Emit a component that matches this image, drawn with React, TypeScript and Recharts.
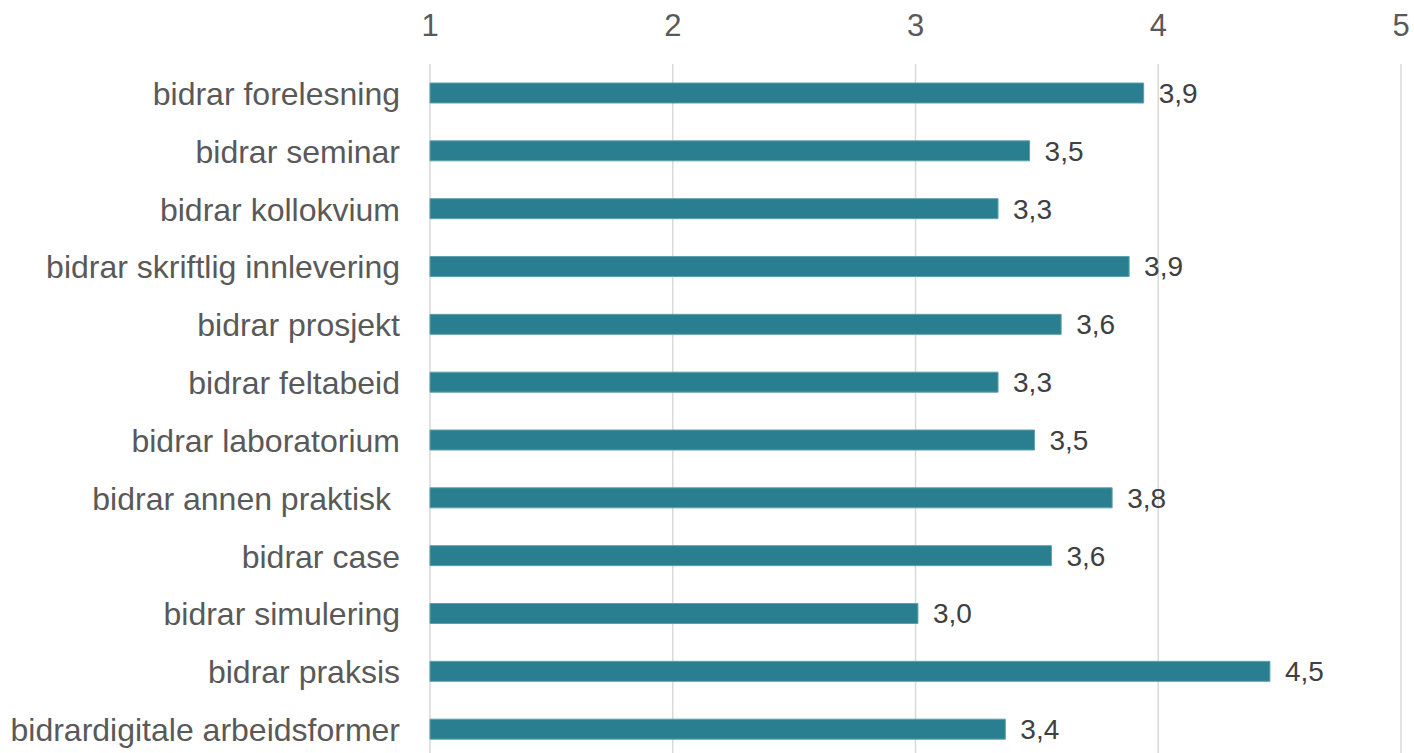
import { BarChart, Bar, XAxis, YAxis, CartesianGrid, LabelList } from "recharts";

const categories = [
  "bidrar forelesning",
  "bidrar seminar",
  "bidrar kollokvium",
  "bidrar skriftlig innlevering",
  "bidrar prosjekt",
  "bidrar feltabeid",
  "bidrar laboratorium",
  "bidrar annen praktisk ",
  "bidrar case",
  "bidrar simulering",
  "bidrar praksis",
  "bidrardigitale arbeidsformer",
];
const scores = [3.94, 3.47, 3.34, 3.88, 3.6, 3.34, 3.49, 3.81, 3.56, 3.01, 4.46, 3.37];
const ticks = [1, 2, 3, 4, 5];

const data = categories.map((name, i) => ({ name, score: scores[i] }));

const FONT = "'Liberation Sans', Arial, sans-serif";

const CategoryTick = ({ x, y, payload }: any) => (
  <text
    x={x - 22}
    y={y}
    dy={12}
    textAnchor="end"
    fill="#595959"
    fontSize={32}
    fontFamily={FONT}
    style={{ whiteSpace: "pre" }}
  >
    {payload.value}
  </text>
);

const ValueTick = ({ x, payload }: any) => (
  <text x={x} y={36} textAnchor="middle" fill="#595959" fontSize={31} fontFamily={FONT}>
    {payload.value}
  </text>
);

export default function App() {
  return (
    <div style={{ position: "absolute", top: 0, left: 0, background: "#fff" }}>
      <BarChart
        layout="vertical"
        width={1414}
        height={760}
        data={data}
        margin={{ top: 0, right: 13, bottom: 2, left: 0 }}
      >
        <CartesianGrid horizontal={false} stroke="#d9d9d9" strokeWidth={1.5} />
        <XAxis
          type="number"
          orientation="top"
          domain={[1, 5]}
          ticks={ticks}
          height={64}
          axisLine={false}
          tickLine={false}
          tick={<ValueTick />}
        />
        <YAxis
          type="category"
          dataKey="name"
          width={430}
          axisLine={false}
          tickLine={false}
          tick={<CategoryTick />}
          interval={0}
        />
        <Bar dataKey="score" fill="#297e8f" stroke="#5fa0ad" strokeWidth={1} barSize={20} isAnimationActive={false}>
          <LabelList
            dataKey="score"
            position="right"
            offset={15}
            fill="#404040"
            fontSize={28}
            fontFamily={FONT}
            formatter={(v: any) => Number(v).toFixed(1).replace(".", ",")}
          />
        </Bar>
      </BarChart>
    </div>
  );
}
